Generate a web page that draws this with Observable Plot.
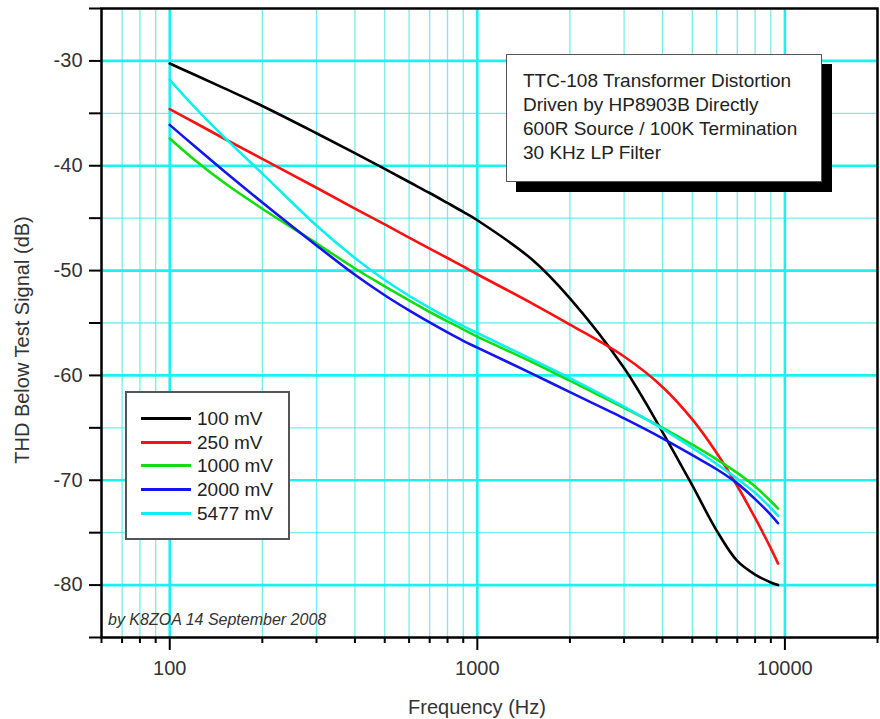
<!DOCTYPE html>
<html><head><meta charset="utf-8">
<script src="https://cdn.jsdelivr.net/npm/d3@7"></script>
<script src="https://cdn.jsdelivr.net/npm/@observablehq/plot@0.6"></script>
<style>
body{margin:0;background:#fff;font-family:"Liberation Sans",Arial,sans-serif;}
#wrap{position:relative;width:880px;height:719px;overflow:hidden;background:#fff;}
#wrap svg{position:absolute;left:0;top:0;}
.ov{position:absolute;color:#333;white-space:nowrap;}
#legend{left:125px;top:391px;width:165px;height:149px;box-sizing:border-box;border:2px solid #555;background:#fff;}
.row{position:absolute;left:0;height:24px;width:160px;}
.sw{position:absolute;left:14px;top:10px;width:50px;height:3px;}
.lt{position:absolute;left:70px;top:0;font-size:19px;line-height:24px;color:#222;}
#shadow{left:516px;top:64px;width:316px;height:128px;background:#000;}
#note{left:506px;top:54px;width:316px;height:128px;box-sizing:border-box;border:1.5px solid #555;background:#fff;padding:14px 0 0 16px;font-size:19px;line-height:24px;color:#222;}
#credit{left:108px;top:611px;font-size:16px;font-style:italic;line-height:18px;}
#xt{left:377px;top:695px;width:200px;text-align:center;font-size:20px;line-height:24px;}
#yt{left:-178px;top:328px;width:400px;text-align:center;font-size:20px;line-height:24px;transform:rotate(-90deg);}
</style></head><body><div id="wrap"></div>
<script>
const freq = [100,120,150,200,300,400,500,600,700,800,900,1000,1500,2000,3000,4000,5000,6000,7000,8000,9000,9500];
const mv100  = [-30.25,-31.3,-32.6,-34.3,-36.9,-38.8,-40.3,-41.55,-42.6,-43.55,-44.4,-45.2,-48.9,-52.65,-59.3,-65.4,-70.5,-74.8,-77.7,-79.0,-79.75,-80.0];
const mv250  = [-34.6,-35.85,-37.4,-39.35,-42.1,-44.1,-45.6,-46.85,-47.9,-48.8,-49.6,-50.35,-53.1,-55.15,-58.2,-61.1,-64.2,-67.4,-70.55,-73.6,-76.5,-77.95];
const mv1000 = [-37.4,-39.4,-41.6,-44.1,-47.4,-49.8,-51.5,-52.85,-53.95,-54.85,-55.6,-56.3,-58.7,-60.5,-63.1,-65.0,-66.6,-68.0,-69.3,-70.6,-72.0,-72.7];
const mv2000 = [-36.1,-38.1,-40.5,-43.5,-47.6,-50.4,-52.35,-53.8,-54.95,-55.9,-56.7,-57.35,-59.8,-61.6,-64.1,-66.0,-67.6,-68.95,-70.3,-71.8,-73.3,-74.1];
const mv5477 = [-31.8,-34.35,-37.25,-40.75,-45.7,-48.8,-50.9,-52.4,-53.55,-54.5,-55.3,-55.95,-58.45,-60.25,-62.98,-65.1,-66.9,-68.45,-69.85,-71.2,-72.65,-73.4];

const names  = ["100 mV","250 mV","1000 mV","2000 mV","5477 mV"];
const colors = ["#000000","#ff1010","#11dd11","#1515ee","#11eeee"];
const seriesValues = [mv100, mv250, mv1000, mv2000, mv5477];

const xMajor = [100,1000,10000];
const xMinor = [60,70,80,90,200,300,400,500,600,700,800,900,2000,3000,4000,5000,6000,7000,8000,9000,20000];
const yTicks = [-85,-80,-75,-70,-65,-60,-55,-50,-45,-40,-35,-30,-25];
const yMajor = [-80,-70,-60,-50,-40,-30];
const yMinor = [-75,-65,-55,-45,-35];
const noteLines = ["TTC-108 Transformer Distortion","Driven by HP8903B Directly","600R Source / 100K Termination","30 KHz LP Filter"];
const credit = "by K8ZOA 14 September 2008";
const xTitle = "Frequency (Hz)";
const yTitle = "THD Below Test Signal (dB)";

const data = names.flatMap((n,k) => freq.map((f,i) => ({f, db: seriesValues[k][i], name: n})));
const gridMinorX = xMinor.filter(d => d > 60 && d < 20000);

const chart = Plot.plot({
  width: 880, height: 719,
  marginLeft: 101, marginRight: 3, marginTop: 8, marginBottom: 82,
  style: {fontFamily: '"Liberation Sans", Arial, sans-serif', fontSize: "20px", color: "#333", background: "transparent"},
  x: {type: "log", domain: [60, 20000]},
  y: {domain: [-85, -25]},
  color: {domain: names, range: colors},
  marks: [
    Plot.gridX(gridMinorX, {stroke: "#3ee6e6", strokeOpacity: 0.7, strokeWidth: 1.3}),
    Plot.gridY(yMinor, {stroke: "#3ee6e6", strokeOpacity: 0.7, strokeWidth: 1.3}),
    Plot.gridX(xMajor, {stroke: "#1ef0f0", strokeOpacity: 1, strokeWidth: 2.6}),
    Plot.gridY(yMajor, {stroke: "#1ef0f0", strokeOpacity: 1, strokeWidth: 2.6}),
    Plot.line(data, {x: "f", y: "db", z: "name", stroke: "name", strokeWidth: 2.6, curve: "catmull-rom"}),
    Plot.frame({stroke: "#000", strokeWidth: 2.5}),
    Plot.axisX(xMinor, {tickSize: 6, tickFormat: () => "", stroke: "#000", strokeWidth: 2, label: null}),
    Plot.axisX(xMajor, {tickSize: 13, tickPadding: 10, tickFormat: d => String(d), stroke: "#000", fill: "#333", strokeWidth: 2, label: null, fontSize: 20}),
    Plot.axisY(yTicks, {tickSize: 12, tickPadding: 7, tickFormat: d => yMajor.includes(d) ? String(d) : "", stroke: "#000", fill: "#333", strokeWidth: 2, label: null, fontSize: 20})
  ]
});

const wrap = document.getElementById("wrap");
wrap.appendChild(chart);

function addDiv(id, html) {
  const d = document.createElement("div");
  d.className = "ov"; d.id = id; d.innerHTML = html || "";
  wrap.appendChild(d); return d;
}
addDiv("shadow");
const note = addDiv("note");
noteLines.forEach(t => { const l = document.createElement("div"); l.textContent = t; note.appendChild(l); });
const legend = addDiv("legend");
names.forEach((n, i) => {
  const r = document.createElement("div"); r.className = "row"; r.style.top = (14 + i * 23.7) + "px";
  const s = document.createElement("div"); s.className = "sw"; s.style.background = colors[i];
  const t = document.createElement("div"); t.className = "lt"; t.textContent = n;
  r.appendChild(s); r.appendChild(t); legend.appendChild(r);
});
addDiv("credit").textContent = credit;
addDiv("xt").textContent = xTitle;
addDiv("yt").textContent = yTitle;
</script></body></html>
